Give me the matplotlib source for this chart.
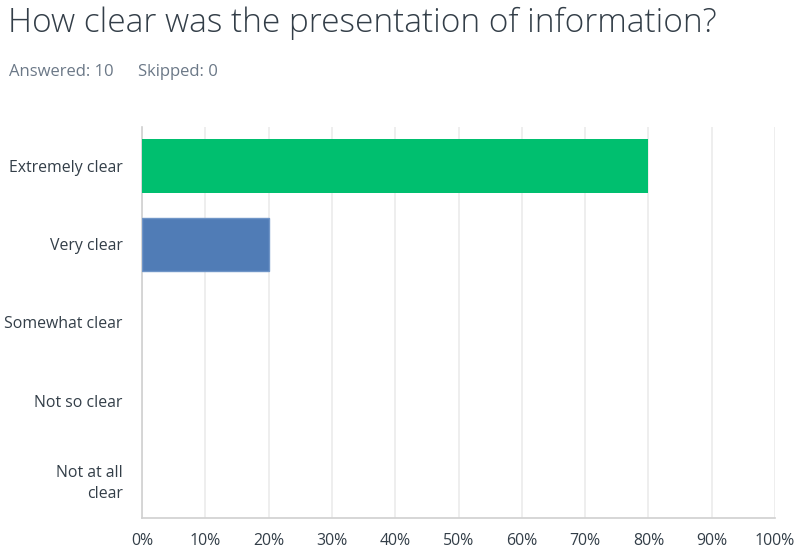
import matplotlib.pyplot as plt
from matplotlib.ticker import FuncFormatter

# ---------- data ----------
categories = ["Extremely clear", "Very clear", "Somewhat clear", "Not so clear", "Not at all\nclear"]
percents = [80, 20, 0, 0, 0]
colors = ["#00bf6f", "#507cb6", "#507cb6", "#507cb6", "#507cb6"]
x_ticks = [0, 10, 20, 30, 40, 50, 60, 70, 80, 90, 100]

title = "How clear was the presentation of information?"
answered = "Answered: 10"
skipped = "Skipped: 0"

plt.rcParams['font.family'] = ['Open Sans', 'DejaVu Sans']

fig = plt.figure(figsize=(8, 5.54), dpi=100)
ax = fig.add_axes([0.1775, 0.065, 0.7913, 0.706])

y = list(range(len(categories)))
bars = ax.barh(y, percents, height=0.68, color=colors, linewidth=0, zorder=3)
# light outline only on the blue bars that actually have width
for b, v in zip(bars, percents):
    if v > 0 and b.get_facecolor()[2] > 0.5:
        b.set_edgecolor("#6f95c7")
        b.set_linewidth(1)

ax.set_ylim(len(categories) - 0.5, -0.5)
ax.set_xlim(0, 100)
ax.set_yticks(y)
ax.set_yticklabels(categories, ha="right", fontsize=11.4, color="#333e48", linespacing=1.45)
ax.set_xticks(x_ticks)
ax.xaxis.set_major_formatter(FuncFormatter(lambda v, p: f"{int(v)}%"))
ax.tick_params(axis="x", length=0, pad=11, labelsize=11.4, labelcolor="#333e48")
ax.tick_params(axis="y", length=0, pad=14)

ax.grid(axis="x", color="#ebebeb", linewidth=1.2, zorder=0)
for s in ["top", "right"]:
    ax.spines[s].set_visible(False)
for s in ["left", "bottom"]:
    ax.spines[s].set_color("#d0d0d0")
    ax.spines[s].set_linewidth(1.2)

fig.text(0.01, 0.942, title, fontsize=24, color="#333e48", fontweight="light", va="baseline")
fig.text(0.011, 0.863, answered, fontsize=12, color="#6b7887", va="baseline")
fig.text(0.172, 0.863, skipped, fontsize=12, color="#6b7887", va="baseline")

fig.savefig("out.png", dpi=100)
